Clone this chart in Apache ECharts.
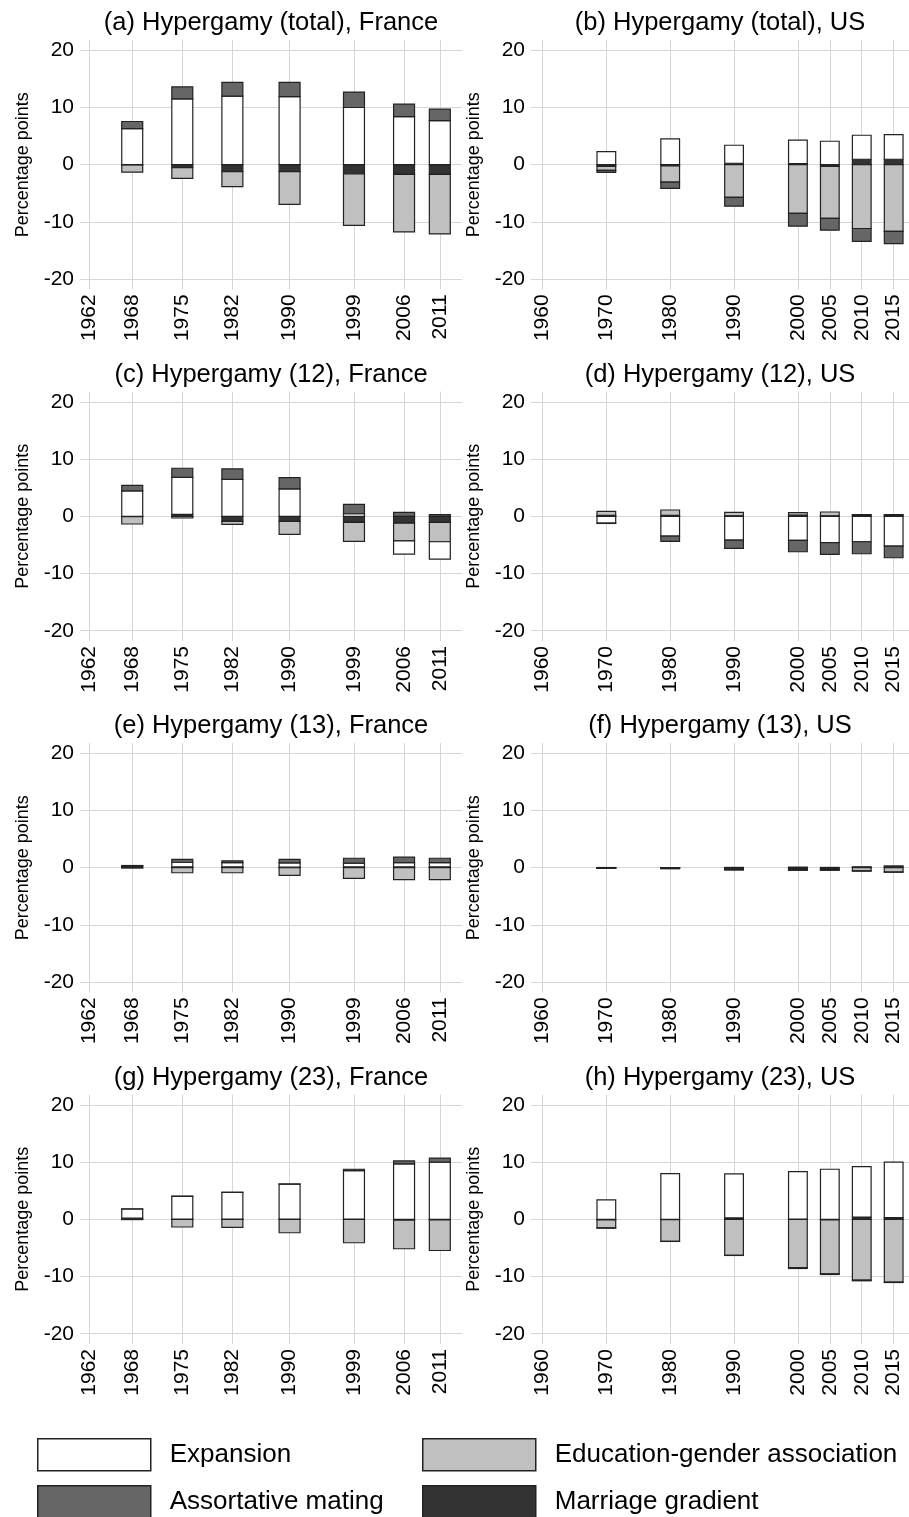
<!DOCTYPE html>
<html>
<head>
<meta charset="utf-8">
<script src="https://cdn.jsdelivr.net/npm/echarts@6/dist/echarts.min.js"></script>
<style>
html,body{margin:0;padding:0;background:#ffffff;}
#chart{width:909px;height:1517px;}
</style>
</head>
<body>
<div id="chart"></div>
<script>
// ---------- categories / ticks ----------
const FR_YEARS = [1968, 1975, 1982, 1990, 1999, 2006, 2011];
const US_YEARS = [1970, 1980, 1990, 2000, 2005, 2010, 2015];
const FR_TICKS = [1962, 1968, 1975, 1982, 1990, 1999, 2006, 2011];
const US_TICKS = [1960, 1970, 1980, 1990, 2000, 2005, 2010, 2015];
const Y_TICKS = [-20, -10, 0, 10, 20];

// stacking order (from zero outward)
const SERIES_NAMES = ['Marriage gradient', 'Education-gender association', 'Expansion', 'Assortative mating'];

// ---------- (a) Hypergamy (total), France ----------
const a_marriage    = [-0.05, -0.5, -1.2, -1.2, -1.6, -1.7, -1.7];
const a_edu         = [-1.25, -1.9, -2.65, -5.75, -9.0, -10.05, -10.4];
const a_expansion   = [6.3, 11.5, 12.0, 11.9, 10.0, 8.4, 7.7];
const a_assortative = [1.25, 2.1, 2.4, 2.5, 2.7, 2.2, 2.0];

// ---------- (b) Hypergamy (total), US ----------
const b_marriage    = [-0.3, -0.2, 0.25, 0.2, -0.3, 0.95, 0.95];
const b_edu         = [-0.7, -2.85, -5.7, -8.5, -9.1, -11.15, -11.65];
const b_expansion   = [2.3, 4.5, 3.15, 4.1, 4.1, 4.2, 4.3];
const b_assortative = [-0.33, -1.1, -1.55, -2.25, -2.05, -2.25, -2.15];

// ---------- (c) Hypergamy (12), France ----------
const c_marriage    = [-0.05, 0.35, -0.9, -0.9, -1.05, -1.2, -1.05];
const c_edu         = [-1.3, -0.3, -0.5, -2.25, -3.35, -3.1, -3.4];
const c_expansion   = [4.45, 6.45, 6.45, 4.8, 0.45, -2.3, -3.05];
const c_assortative = [0.95, 1.6, 1.85, 1.95, 1.65, 0.7, 0.3];

// ---------- (d) Hypergamy (12), US ----------
const d_marriage    = [0.15, 0.15, 0.1, 0.2, 0.1, 0.25, 0.25];
const d_edu         = [0.7, 0.95, 0.6, 0.45, 0.65, 0.05, 0.05];
const d_expansion   = [-1.2, -3.45, -4.15, -4.2, -4.6, -4.45, -5.2];
const d_assortative = [-0.05, -0.95, -1.45, -2.0, -2.05, -2.1, -2.05];

// ---------- (e) Hypergamy (13), France ----------
const e_marriage    = [0.3, 0.15, 0.15, 0.1, 0.15, 0.15, 0.15];
const e_edu         = [-0.05, -0.88, -0.88, -1.35, -1.85, -2.1, -2.1];
const e_expansion   = [0.05, 0.8, 0.75, 0.75, 0.65, 0.75, 0.75];
const e_assortative = [0.03, 0.5, 0.3, 0.6, 0.85, 0.95, 0.75];

// ---------- (f) Hypergamy (13), US ----------
const f_marriage    = [-0.05, -0.05, -0.2, -0.25, -0.25, 0.1, 0.25];
const f_edu         = [-0.05, -0.1, -0.15, -0.15, -0.15, -0.55, -0.75];
const f_expansion   = [0.03, 0.02, 0.05, 0.1, 0.05, 0.05, 0.05];
const f_assortative = [-0.02, -0.02, -0.05, -0.05, -0.05, -0.05, -0.05];

// ---------- (g) Hypergamy (23), France ----------
const g_marriage    = [0.2, 0.05, 0.05, 0.05, 0.05, -0.15, -0.1];
const g_edu         = [-0.05, -1.35, -1.4, -2.35, -4.1, -5.0, -5.35];
const g_expansion   = [1.6, 3.95, 4.65, 6.1, 8.45, 9.7, 10.0];
const g_assortative = [0.02, 0.05, 0.02, 0.02, 0.25, 0.5, 0.7];

// ---------- (h) Hypergamy (23), US ----------
const h_marriage    = [-0.1, -0.05, 0.25, 0.05, -0.1, 0.4, 0.3];
const h_edu         = [-1.4, -3.8, -6.3, -8.45, -9.45, -10.65, -11.0];
const h_expansion   = [3.4, 8.0, 7.7, 8.3, 8.75, 8.8, 9.7];
const h_assortative = [-0.05, -0.02, -0.02, -0.15, -0.1, -0.1, -0.05];

const PANEL_TITLES = [
  '(a) Hypergamy (total), France', '(b) Hypergamy (total), US',
  '(c) Hypergamy (12), France', '(d) Hypergamy (12), US',
  '(e) Hypergamy (13), France', '(f) Hypergamy (13), US',
  '(g) Hypergamy (23), France', '(h) Hypergamy (23), US'
];
const PANEL_DATA = [
  [a_marriage, a_edu, a_expansion, a_assortative],
  [b_marriage, b_edu, b_expansion, b_assortative],
  [c_marriage, c_edu, c_expansion, c_assortative],
  [d_marriage, d_edu, d_expansion, d_assortative],
  [e_marriage, e_edu, e_expansion, e_assortative],
  [f_marriage, f_edu, f_expansion, f_assortative],
  [g_marriage, g_edu, g_expansion, g_assortative],
  [h_marriage, h_edu, h_expansion, h_assortative]
];

// ---------- styling / layout ----------
const FONT = '"Liberation Sans", Arial, Helvetica, sans-serif';
const COLORS = {
  'Marriage gradient': '#333333',
  'Education-gender association': '#c0c0c0',
  'Expansion': '#ffffff',
  'Assortative mating': '#666666'
};
const BORDER = '#222222';
const GRID_COLOR = '#d6d6d6';
const COL_LEFT = [80, 531];
const COL_WIDTH = [382, 378];
const ROW_TOP = [40, 391.6, 743, 1094.6];
const PLOT_H = 249.4;
const X_RANGE = [[1960.7, 2014.1], [1958.2, 2017.4]];
const BAR_YEARS = 2.93; // bar width in axis units (years)

function makeRenderItem(color) {
  return function (params, api) {
    const x = api.value(0), s = api.value(1), e = api.value(2);
    const p0 = api.coord([x - BAR_YEARS / 2, Math.max(s, e)]);
    const p1 = api.coord([x + BAR_YEARS / 2, Math.min(s, e)]);
    return {
      type: 'rect',
      shape: { x: p0[0], y: p0[1], width: p1[0] - p0[0], height: p1[1] - p0[1] },
      style: { fill: color, stroke: BORDER, lineWidth: 1.2 }
    };
  };
}

const grids = [], xAxes = [], yAxes = [], titles = [], series = [];
for (let p = 0; p < 8; p++) {
  const col = p % 2, row = Math.floor(p / 2);
  const isFR = col === 0;
  const years = isFR ? FR_YEARS : US_YEARS;
  const ticks = isFR ? FR_TICKS : US_TICKS;
  grids.push({ left: COL_LEFT[col], width: COL_WIDTH[col], top: ROW_TOP[row], height: PLOT_H, containLabel: false });
  xAxes.push({
    type: 'value', gridIndex: p, min: X_RANGE[col][0], max: X_RANGE[col][1],
    axisLine: { show: false }, axisTick: { show: false, customValues: ticks },
    axisLabel: { customValues: ticks, rotate: 90, margin: 5, fontSize: 21, color: '#000', fontFamily: FONT,
                 formatter: v => String(Math.round(v)) },
    splitLine: { show: true, lineStyle: { color: GRID_COLOR, width: 1 } }
  });
  yAxes.push({
    type: 'value', gridIndex: p, min: -21.8, max: 21.8,
    axisLine: { show: false }, axisTick: { show: false, customValues: Y_TICKS },
    axisLabel: { customValues: Y_TICKS, margin: 6, fontSize: 21, color: '#000', fontFamily: FONT,
                 formatter: v => String(Math.round(v)) },
    splitLine: { show: true, lineStyle: { color: GRID_COLOR, width: 1 } },
    name: 'Percentage points', nameLocation: 'middle', nameGap: 48,
    nameTextStyle: { fontSize: 18, color: '#000', fontFamily: FONT }
  });
  titles.push({
    text: PANEL_TITLES[p], left: COL_LEFT[col] + COL_WIDTH[col] / 2, textAlign: 'center',
    top: ROW_TOP[row] - 30, padding: 0,
    textStyle: { fontSize: 25.5, fontWeight: 'normal', color: '#000', fontFamily: FONT }
  });
  // stacked table: positive values stack upward, negative downward, in SERIES_NAMES order
  const posBase = years.map(() => 0), negBase = years.map(() => 0);
  PANEL_DATA[p].forEach((vals, k) => {
    const name = SERIES_NAMES[k];
    const data = years.map((y, i) => {
      const v = vals[i];
      let s, e;
      if (v >= 0) { s = posBase[i]; e = s + v; posBase[i] = e; }
      else { s = negBase[i]; e = s + v; negBase[i] = e; }
      return [y, s, e];
    });
    series.push({
      name: name, type: 'custom', xAxisIndex: p, yAxisIndex: p,
      renderItem: makeRenderItem(COLORS[name]),
      encode: { x: 0, y: [1, 2] },
      itemStyle: { color: COLORS[name], borderColor: BORDER, borderWidth: 1.2 },
      data: data,
      silent: true
    });
  });
}

const legendCommon = {
  orient: 'horizontal', itemWidth: 113, itemHeight: 32, padding: 0,
  icon: 'rect', selectedMode: false,
  itemStyle: { borderColor: BORDER, borderWidth: 1.5 },
  textStyle: { fontSize: 26, color: '#000', fontFamily: FONT, padding: [0, 0, 0, 14] }
};
const LEGEND_POS = [
  ['Expansion', 37, 1438],
  ['Assortative mating', 37, 1485],
  ['Education-gender association', 422, 1438],
  ['Marriage gradient', 422, 1485]
];

const option = {
  animation: false,
  backgroundColor: '#ffffff',
  title: titles,
  grid: grids,
  xAxis: xAxes,
  yAxis: yAxes,
  legend: LEGEND_POS.map(([n, l, t]) => Object.assign({}, legendCommon, { left: l, top: t, data: [n] })),
  series: series
};

const chart = echarts.init(document.getElementById('chart'), null, { renderer: 'canvas' });
chart.setOption(option);
</script>
</body>
</html>
